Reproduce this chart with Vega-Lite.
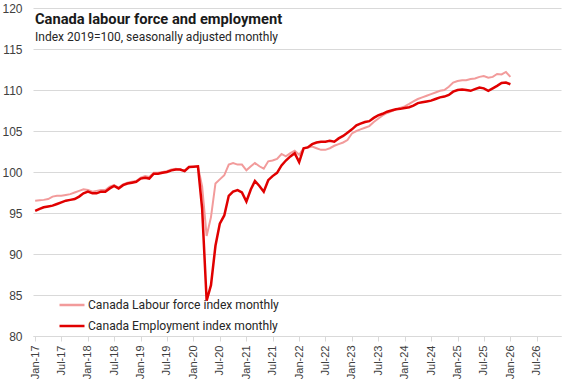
{
  "$schema": "https://vega.github.io/schema/vega-lite/v6.json",
  "width": 528,
  "height": 328,
  "autosize": "none",
  "padding": {"left": 33, "top": 8, "right": 16, "bottom": 49},
  "background": "white",
  "config": {
    "view": {"stroke": null},
    "axis": {"labelFont": "Liberation Sans", "labelColor": "#404040", "titleFont": "Liberation Sans"}
  },
  "title": {
    "text": "Canada labour force and employment",
    "subtitle": "Index 2019=100, seasonally adjusted monthly",
    "anchor": "start",
    "frame": "group",
    "orient": "top",
    "offset": -41,
    "dx": 2,
    "font": "Roboto",
    "fontSize": 14.7,
    "fontWeight": "bold",
    "color": "#1a1a1a",
    "subtitleFont": "Roboto",
    "subtitleFontSize": 12,
    "subtitleColor": "#262626",
    "subtitlePadding": 5
  },
  "data": {
    "values": [
      {"date": "2017-01-01", "labour_force": 96.5, "employment": 95.25},
      {"date": "2017-02-01", "labour_force": 96.55, "employment": 95.5},
      {"date": "2017-03-01", "labour_force": 96.6, "employment": 95.7},
      {"date": "2017-04-01", "labour_force": 96.7, "employment": 95.8},
      {"date": "2017-05-01", "labour_force": 97.0, "employment": 95.9},
      {"date": "2017-06-01", "labour_force": 97.1, "employment": 96.1},
      {"date": "2017-07-01", "labour_force": 97.1, "employment": 96.3},
      {"date": "2017-08-01", "labour_force": 97.2, "employment": 96.5},
      {"date": "2017-09-01", "labour_force": 97.3, "employment": 96.6},
      {"date": "2017-10-01", "labour_force": 97.5, "employment": 96.7},
      {"date": "2017-11-01", "labour_force": 97.7, "employment": 97.0},
      {"date": "2017-12-01", "labour_force": 97.9, "employment": 97.4},
      {"date": "2018-01-01", "labour_force": 97.8, "employment": 97.6},
      {"date": "2018-02-01", "labour_force": 97.6, "employment": 97.4},
      {"date": "2018-03-01", "labour_force": 97.7, "employment": 97.4},
      {"date": "2018-04-01", "labour_force": 97.8, "employment": 97.6},
      {"date": "2018-05-01", "labour_force": 97.8, "employment": 97.6},
      {"date": "2018-06-01", "labour_force": 98.2, "employment": 98.0},
      {"date": "2018-07-01", "labour_force": 98.4, "employment": 98.3},
      {"date": "2018-08-01", "labour_force": 98.1, "employment": 98.0},
      {"date": "2018-09-01", "labour_force": 98.5, "employment": 98.4},
      {"date": "2018-10-01", "labour_force": 98.7, "employment": 98.6},
      {"date": "2018-11-01", "labour_force": 98.8, "employment": 98.7},
      {"date": "2018-12-01", "labour_force": 98.9, "employment": 98.8},
      {"date": "2019-01-01", "labour_force": 99.3, "employment": 99.2},
      {"date": "2019-02-01", "labour_force": 99.5, "employment": 99.3},
      {"date": "2019-03-01", "labour_force": 99.4, "employment": 99.2},
      {"date": "2019-04-01", "labour_force": 99.9, "employment": 99.8},
      {"date": "2019-05-01", "labour_force": 99.9, "employment": 99.8},
      {"date": "2019-06-01", "labour_force": 100.0, "employment": 99.9},
      {"date": "2019-07-01", "labour_force": 100.1, "employment": 100.0},
      {"date": "2019-08-01", "labour_force": 100.3, "employment": 100.2},
      {"date": "2019-09-01", "labour_force": 100.4, "employment": 100.3},
      {"date": "2019-10-01", "labour_force": 100.3, "employment": 100.3},
      {"date": "2019-11-01", "labour_force": 100.2, "employment": 100.1},
      {"date": "2019-12-01", "labour_force": 100.6, "employment": 100.6},
      {"date": "2020-01-01", "labour_force": 100.65, "employment": 100.65},
      {"date": "2020-02-01", "labour_force": 100.7, "employment": 100.7},
      {"date": "2020-03-01", "labour_force": 98.2, "employment": 95.5},
      {"date": "2020-04-01", "labour_force": 92.2, "employment": 84.3},
      {"date": "2020-05-01", "labour_force": 94.5, "employment": 86.2},
      {"date": "2020-06-01", "labour_force": 98.6, "employment": 91.0},
      {"date": "2020-07-01", "labour_force": 99.1, "employment": 93.7},
      {"date": "2020-08-01", "labour_force": 99.6, "employment": 94.7},
      {"date": "2020-09-01", "labour_force": 100.9, "employment": 97.1},
      {"date": "2020-10-01", "labour_force": 101.1, "employment": 97.6},
      {"date": "2020-11-01", "labour_force": 100.9, "employment": 97.8},
      {"date": "2020-12-01", "labour_force": 100.9, "employment": 97.5},
      {"date": "2021-01-01", "labour_force": 100.2, "employment": 96.4},
      {"date": "2021-02-01", "labour_force": 100.7, "employment": 97.9},
      {"date": "2021-03-01", "labour_force": 101.1, "employment": 98.9},
      {"date": "2021-04-01", "labour_force": 100.7, "employment": 98.3},
      {"date": "2021-05-01", "labour_force": 100.4, "employment": 97.6},
      {"date": "2021-06-01", "labour_force": 101.3, "employment": 99.0},
      {"date": "2021-07-01", "labour_force": 101.4, "employment": 99.5},
      {"date": "2021-08-01", "labour_force": 101.6, "employment": 99.9},
      {"date": "2021-09-01", "labour_force": 102.2, "employment": 100.8},
      {"date": "2021-10-01", "labour_force": 101.9, "employment": 101.4},
      {"date": "2021-11-01", "labour_force": 102.3, "employment": 101.9},
      {"date": "2021-12-01", "labour_force": 102.6, "employment": 102.3},
      {"date": "2022-01-01", "labour_force": 102.1, "employment": 101.2},
      {"date": "2022-02-01", "labour_force": 102.9, "employment": 102.9},
      {"date": "2022-03-01", "labour_force": 103.0, "employment": 103.0},
      {"date": "2022-04-01", "labour_force": 103.1, "employment": 103.4},
      {"date": "2022-05-01", "labour_force": 102.9, "employment": 103.6},
      {"date": "2022-06-01", "labour_force": 102.7, "employment": 103.7},
      {"date": "2022-07-01", "labour_force": 102.7, "employment": 103.7},
      {"date": "2022-08-01", "labour_force": 102.9, "employment": 103.8},
      {"date": "2022-09-01", "labour_force": 103.2, "employment": 103.7},
      {"date": "2022-10-01", "labour_force": 103.4, "employment": 104.1},
      {"date": "2022-11-01", "labour_force": 103.6, "employment": 104.4},
      {"date": "2022-12-01", "labour_force": 103.9, "employment": 104.8},
      {"date": "2023-01-01", "labour_force": 104.7, "employment": 105.2},
      {"date": "2023-02-01", "labour_force": 105.0, "employment": 105.7},
      {"date": "2023-03-01", "labour_force": 105.2, "employment": 105.9},
      {"date": "2023-04-01", "labour_force": 105.4, "employment": 106.1},
      {"date": "2023-05-01", "labour_force": 105.6, "employment": 106.2},
      {"date": "2023-06-01", "labour_force": 106.1, "employment": 106.6},
      {"date": "2023-07-01", "labour_force": 106.5, "employment": 106.9},
      {"date": "2023-08-01", "labour_force": 106.9, "employment": 107.1},
      {"date": "2023-09-01", "labour_force": 107.2, "employment": 107.35},
      {"date": "2023-10-01", "labour_force": 107.4, "employment": 107.5},
      {"date": "2023-11-01", "labour_force": 107.6, "employment": 107.65},
      {"date": "2023-12-01", "labour_force": 107.8, "employment": 107.7},
      {"date": "2024-01-01", "labour_force": 108.0, "employment": 107.8},
      {"date": "2024-02-01", "labour_force": 108.3, "employment": 107.9},
      {"date": "2024-03-01", "labour_force": 108.6, "employment": 108.1},
      {"date": "2024-04-01", "labour_force": 108.9, "employment": 108.4},
      {"date": "2024-05-01", "labour_force": 109.1, "employment": 108.5},
      {"date": "2024-06-01", "labour_force": 109.3, "employment": 108.6},
      {"date": "2024-07-01", "labour_force": 109.5, "employment": 108.7},
      {"date": "2024-08-01", "labour_force": 109.7, "employment": 108.9},
      {"date": "2024-09-01", "labour_force": 109.9, "employment": 109.1},
      {"date": "2024-10-01", "labour_force": 110.0, "employment": 109.2},
      {"date": "2024-11-01", "labour_force": 110.4, "employment": 109.4},
      {"date": "2024-12-01", "labour_force": 110.9, "employment": 109.8},
      {"date": "2025-01-01", "labour_force": 111.1, "employment": 110.0},
      {"date": "2025-02-01", "labour_force": 111.2, "employment": 110.05},
      {"date": "2025-03-01", "labour_force": 111.2, "employment": 110.0},
      {"date": "2025-04-01", "labour_force": 111.35, "employment": 109.9},
      {"date": "2025-05-01", "labour_force": 111.4, "employment": 110.1},
      {"date": "2025-06-01", "labour_force": 111.6, "employment": 110.3},
      {"date": "2025-07-01", "labour_force": 111.7, "employment": 110.2},
      {"date": "2025-08-01", "labour_force": 111.5, "employment": 109.9},
      {"date": "2025-09-01", "labour_force": 111.6, "employment": 110.2},
      {"date": "2025-10-01", "labour_force": 111.95, "employment": 110.5},
      {"date": "2025-11-01", "labour_force": 111.9, "employment": 110.85},
      {"date": "2025-12-01", "labour_force": 112.2, "employment": 110.9},
      {"date": "2026-01-01", "labour_force": 111.6, "employment": 110.7}
    ]
  },
  "transform": [{"fold": ["labour_force", "employment"], "as": ["series", "value"]}],
  "encoding": {
    "x": {
      "field": "date",
      "type": "temporal",
      "title": null,
      "scale": {
        "type": "utc",
        "domain": [
          {"year": 2016, "month": 12, "date": 17, "utc": true},
          {"year": 2026, "month": 12, "date": 17, "utc": true}
        ]
      },
      "axis": {
        "tickCount": {"interval": "month", "step": 6},
        "labelExpr": "utcFormat(datum.value, '%b-%y')",
        "labelAngle": 270,
        "labelFontSize": 11,
        "labelPadding": 4,
        "tickSize": 5,
        "tickColor": "#D9D9D9",
        "domainColor": "#D9D9D9",
        "grid": false,
        "labelOverlap": false
      }
    },
    "y": {
      "field": "value",
      "type": "quantitative",
      "title": null,
      "scale": {"domain": [80, 120], "nice": false, "zero": false},
      "axis": {
        "values": [80, 85, 90, 95, 100, 105, 110, 115, 120],
        "domain": false,
        "ticks": false,
        "labelPadding": 11,
        "labelFontSize": 12,
        "gridColor": "#D9D9D9",
        "gridWidth": 1
      }
    },
    "color": {
      "field": "series",
      "type": "nominal",
      "scale": {"domain": ["labour_force", "employment"], "range": ["#F29B9B", "#E00000"]},
      "legend": {
        "orient": "none",
        "legendX": 25,
        "legendY": 283,
        "title": null,
        "symbolType": "stroke",
        "symbolSize": 625,
        "symbolStrokeWidth": 2.5,
        "labelFont": "Roboto",
        "labelFontSize": 12.1,
        "labelColor": "#262626",
        "labelOffset": 2,
        "labelLimit": 0,
        "rowPadding": 0,
        "labelExpr": "datum.label == 'labour_force' ? 'Canada Labour force index monthly' : 'Canada Employment index monthly'"
      }
    }
  },
  "layer": [
    {
      "transform": [{"filter": "datum.series == 'labour_force'"}],
      "mark": {"type": "line", "strokeWidth": 2, "interpolate": "linear"}
    },
    {
      "transform": [{"filter": "datum.series == 'employment'"}],
      "mark": {"type": "line", "strokeWidth": 2.5, "interpolate": "linear"}
    }
  ]
}
